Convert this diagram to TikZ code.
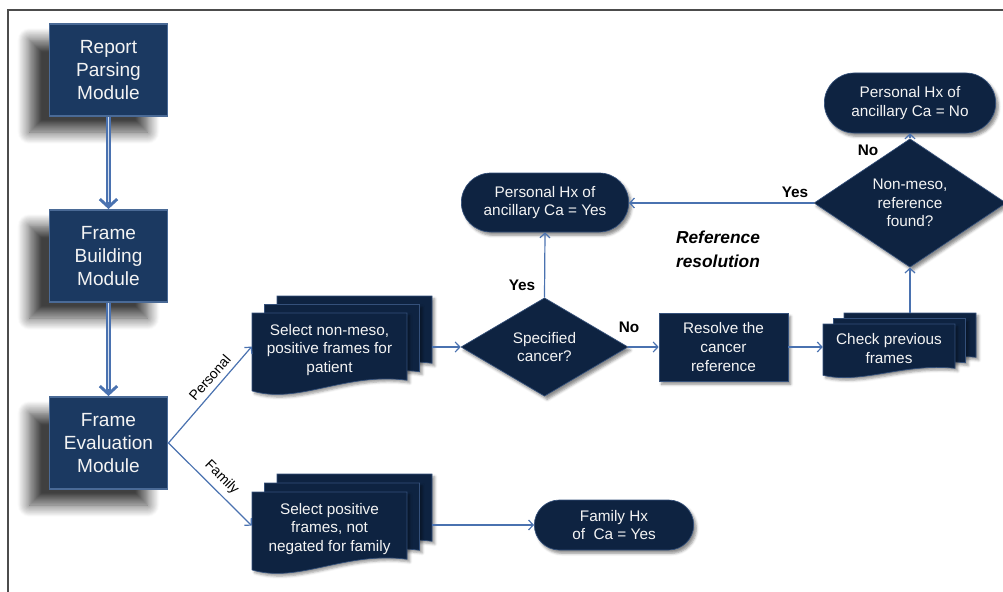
\documentclass[tikz,border=0pt]{standalone}
\usepackage{fontspec}
\setmainfont{Liberation Sans}
\usetikzlibrary{arrows.meta,shapes.geometric,shapes.misc,shadows.blur,fit}

\definecolor{modfill}{HTML}{1B3961}
\definecolor{modedge}{HTML}{4A6A96}
\definecolor{navy}{HTML}{0E2341}
\definecolor{navyedge}{HTML}{34507A}
\definecolor{link}{HTML}{4A72B0}
\definecolor{linkpale}{HTML}{D3DEEE}
\definecolor{txt}{HTML}{F4F4F4}

\begin{document}
\begin{tikzpicture}[x=0.75pt,y=-0.75pt,
  module/.style={rectangle,fill=modfill,draw=modedge,line width=1.4pt,text=txt,align=center,
    minimum width=88.5pt,minimum height=69pt,font=\fontsize{14.3}{17.5}\selectfont,
    blur shadow={shadow xshift=-15pt,shadow yshift=-12pt,shadow blur radius=9pt,
      shadow blur steps=14,shadow opacity=75}},
  box/.style={rectangle,fill=navy,draw=navyedge,line width=.5pt,text=txt,align=center,inner sep=1pt,
    font=\fontsize{11.5}{14}\selectfont,
    blur shadow={shadow xshift=2pt,shadow yshift=-2.5pt,shadow blur radius=2pt,shadow opacity=45}},
  term/.style={box,rounded rectangle},
  decide/.style={box,diamond},
  page/.style={fill=navy,draw=navyedge,line width=.5pt,
    blur shadow={shadow xshift=2pt,shadow yshift=-2pt,shadow blur radius=2pt,shadow opacity=40}},
  doctext/.style={text=txt,align=center,font=\fontsize{11.5}{14}\selectfont},
  flow/.style={draw=link,line width=.9pt,-{Straight Barb[length=3.5pt,width=7.5pt]}},
  modarrow/.style={draw=link,line width=3.4pt,-{Straight Barb[length=6pt,width=13pt,line width=2.2pt]}},
  modcore/.style={draw=linkpale,line width=1.2pt,shorten >=5pt},
  lbl/.style={font=\bfseries\fontsize{11.5}{13}\selectfont},
  branch/.style={font=\fontsize{10.5}{12}\selectfont,sloped,above=1pt}]

\useasboundingbox (0,0) rectangle (1003,592);
\draw[gray!60!black,line width=.8pt] (1003,10) -- (8,10) -- (8,592);

% x y w h (top left corner, pixels)
\newcommand\docpage[4]{
  \begin{scope}[shift={(#1,#2)}]
    \filldraw[page] (0,0) -- (#3,0) -- (#3,0.82*#4)
      .. controls (0.6*#3,0.72*#4) and (0.3*#3,1.12*#4) .. (0,0.95*#4) -- cycle;
  \end{scope}
}
% name, x, y, w, h, dx, dy, text
\newcommand\docstack[8]{
  \foreach \k in {2,1,0} {\docpage{#2+\k*#6}{#3-\k*#7}{#4}{#5}}
  \node[fit={(#2,#3) (#2+#4,#3+0.82*#5)},inner sep=0pt] (#1-front) {};
  \node[fit={(#2+2*#6,#3-2*#7) (#2+2*#6+#4,#3-2*#7+0.82*#5)},inner sep=0pt] (#1-back) {};
  \node[doctext] (#1) at (#2+0.5*#4,#3+0.45*#5) {#8};
}

% modules
\node[module] (rpm) at (108.5,70) {Report\\Parsing\\Module};
\node[module] (fbm) at (108.5,256) {Frame\\Building\\Module};
\node[module] (fem) at (108.5,443) {Frame\\Evaluation\\Module};
\draw[modarrow] (rpm) -- (fbm); \draw[modcore] (rpm) -- (fbm);
\draw[modarrow] (fbm) -- (fem); \draw[modcore] (fbm) -- (fem);

% frame stacks
\docstack{selp}{252}{313}{155}{82}{12.5}{8.5}{Select non-meso,\\positive frames for\\patient}
\docstack{self}{252}{492}{155}{82}{12.5}{9}{Select positive\\frames, not\\negated for family}
\docstack{chk}{823}{324}{132}{54}{10.5}{5.5}{Check previous\\frames}

% decisions and results
\node[decide,minimum width=125.25pt,minimum height=50.25pt] (spec) at (544.5,347) {Specified\\cancer?};
\node[box,minimum width=96.75pt,minimum height=51pt] (resolve) at (723.5,347) {Resolve the\\cancer\\reference};
\node[decide,minimum width=144pt,minimum height=64.5pt] (found) at (910,203) {Non-meso,\\reference\\found?};
\node[term,minimum width=127.5pt,minimum height=44.25pt] (yes1) at (545,202.5) {Personal Hx of\\ancillary Ca = Yes};
\node[term,minimum width=130.5pt,minimum height=45pt] (no1) at (910,103) {Personal Hx of\\ancillary Ca = No};
\node[term,minimum width=121.5pt,minimum height=37.5pt] (fam) at (614,525) {Family Hx\\of~ Ca = Yes};

% connectors
\draw[flow] (fem.east) -- (selp-front.west) node[branch,pos=.6] {Personal};
\draw[flow] (fem.east) -- (self-front.west) node[branch,pos=.53] {Family};
\draw[flow] (selp-back.east |- spec.west) -- (spec.west);
\draw[flow] (spec.east) -- (resolve.west);
\draw[flow] (resolve.east) -- (resolve.east -| chk-front.west);
\draw[flow] (spec.north) -- (yes1.south);
\draw[flow] (chk-back.north) -- (found.south);
\draw[flow] (found.west) -- (found.west -| yes1.east);
\draw[flow] (found.north) -- (no1.south);
\draw[flow] (self-back.east |- fam.west) -- (fam.west);

\node[lbl] (l-yes1) at (522,285) {Yes};
\node[lbl] (l-no1) at (629,327) {No};
\node[lbl] (l-yes2) at (795,192) {Yes};
\node[lbl] (l-no2) at (868,150) {No};
\node[font=\bfseries\itshape\fontsize{13}{18}\selectfont,align=center] (refres) at (718,249) {Reference\\resolution};
\end{tikzpicture}
\end{document}
